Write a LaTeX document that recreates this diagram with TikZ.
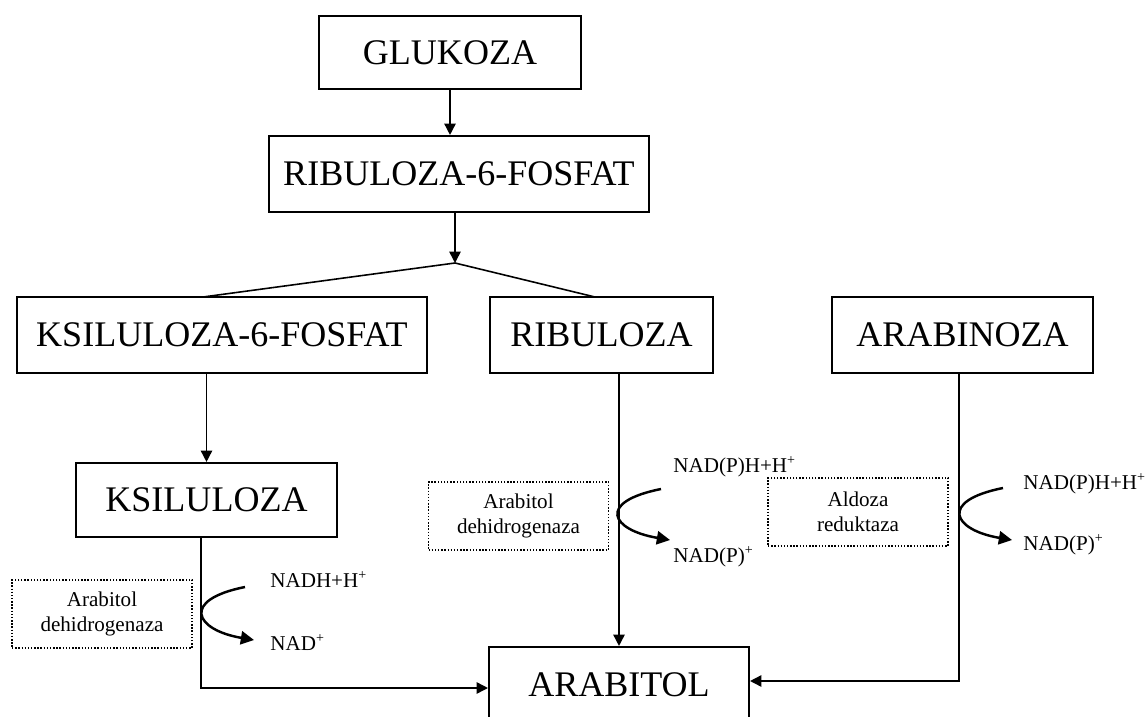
\documentclass[tikz,border=0pt]{standalone}
\usepackage{fontspec}
\setmainfont{Liberation Serif}
\usetikzlibrary{arrows.meta}
\newcommand\sugarfont{\fontsize{20.5}{24}\selectfont}
\newcommand\enzfont{\fontsize{12}{14}\selectfont}
\tikzset{
	sugar/.style={draw, line width=1.2pt, inner sep=0pt, minimum height=1.52cm, font=\sugarfont},
	enzyme/.style={draw, densely dotted, line width=0.8pt, inner sep=0pt, minimum width=3.6cm, minimum height=1.36cm, align=center, font=\enzfont},
	cof/.style={inner sep=0pt, anchor=base west, font=\enzfont},
	flow/.style={line width=0.9pt, -{Triangle[length=6.5pt,width=6.5pt]}},
	link/.style={line width=0.9pt},
	cofactor/.style={line width=1.4pt, -{Triangle[length=7.5pt,width=7.5pt]}}
}
\def\redox(#1)(#2){\draw[cofactor] (#1) .. controls +(-65,13) and +(-59,-10) .. (#2);}

\begin{document}
\begin{tikzpicture}[x=0.02cm, y=-0.02cm]
		%%%%% START %%%%%
		\useasboundingbox (0,0) rectangle (1148,716);
		
		\node[sugar, minimum width=5.24cm, minimum height=1.46cm] (glukoza) at (450,52.5) {GLUKOZA};
		\node[sugar, minimum width=7.6cm] (r6f) at (459,174) {RIBULOZA-6-FOSFAT};
		
		\node[sugar, minimum width=8.2cm] (ksf) at (222,335) {KSILULOZA-6-FOSFAT};
		\node[sugar, minimum width=4.46cm] (ribuloza) at (601.5,335) {RIBULOZA};
		\node[sugar, minimum width=5.22cm] (arabinoza) at (962.5,335) {ARABINOZA};
		
		\node[sugar, minimum width=5.22cm, minimum height=1.48cm] (ksiluloza) at (206.5,500) {KSILULOZA};
		\node[sugar, minimum width=5.2cm] (arabitol) at (619,685) {ARABITOL};
		
		\node[enzyme] (enzL) at (102,614) {Arabitol\\dehidrogenaza};
		\node[enzyme] (enzM) at (518.5,516) {Arabitol\\dehidrogenaza};
		\node[enzyme] (enzR) at (858,512) {Aldoza\\reduktaza};
		
		\node[cof] (nadhL) at (270,587) {NADH+H\textsuperscript{+}};
		\node[cof] (nadL) at (270,650) {NAD\textsuperscript{+}};
		\node[cof] (nadphM) at (673,472) {NAD(P)H+H\textsuperscript{+}};
		\node[cof] (nadpM) at (673,562) {NAD(P)\textsuperscript{+}};
		\node[cof] (nadphR) at (1023,489) {NAD(P)H+H\textsuperscript{+}};
		\node[cof] (nadpR) at (1023,550) {NAD(P)\textsuperscript{+}};
		
		% branching
		\coordinate (split) at (455,263);
		\coordinate (ksfin) at (203,297);
		\coordinate (ribin) at (595,297);
		\draw[flow] (glukoza.south) -- (glukoza.south |- r6f.north);
		\draw[flow] (r6f.south -| split) -- (split);
		\draw[link] (split) -- (ksfin);
		\draw[link] (split) -- (ribin);
		
		\draw[flow] (ksiluloza.north |- ksf.south) -- (ksiluloza.north);
		\draw[flow] ([xshift=-0.11cm]ksiluloza.south) |- ([yshift=-0.06cm]arabitol.west);
		\draw[flow] (arabitol.north |- ribuloza.south) -- (arabitol.north);
		\draw[flow] ([xshift=-0.07cm]arabinoza.south) |- ([yshift=0.08cm]arabitol.east);
		
		% cofactors
		\coordinate (inL) at (245,587);
		\coordinate (outL) at (254,640);
		\coordinate (inM) at (661,489);
		\coordinate (outM) at (670,540);
		\coordinate (inR) at (1003,488);
		\coordinate (outR) at (1012,540);
		\redox(inL)(outL)
		\redox(inM)(outM)
		\redox(inR)(outR)
		
		%%%%% END %%%%%
	\end{tikzpicture}
\end{document}
